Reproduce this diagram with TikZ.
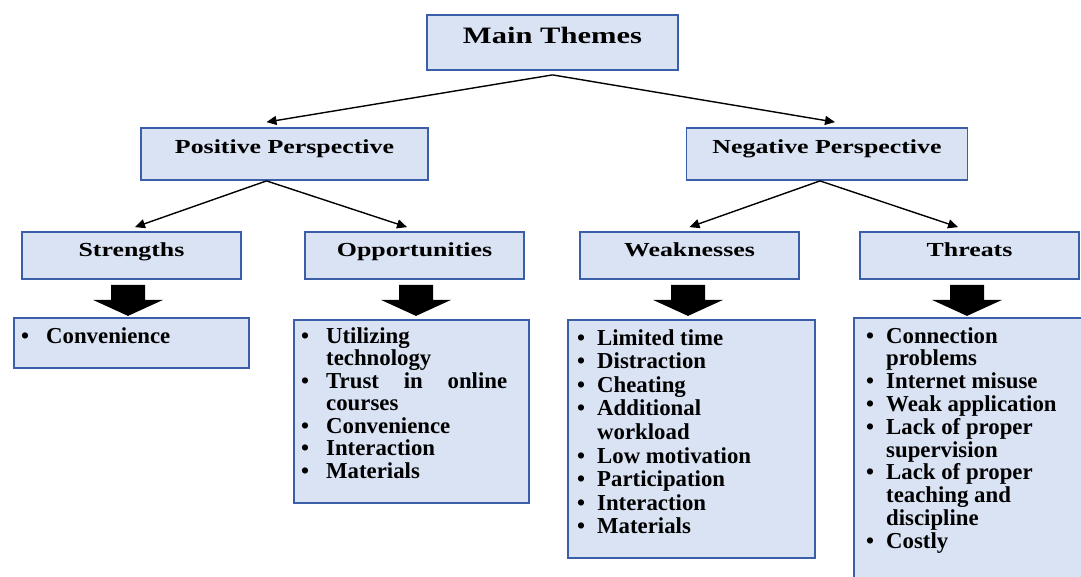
\documentclass[tikz,border=0pt]{standalone}
\usepackage{fontspec}
\setmainfont{Liberation Serif}
\usepackage{graphicx}
\usetikzlibrary{arrows.meta,calc}
\definecolor{boxline}{RGB}{58,94,168}
\definecolor{boxfill}{RGB}{218,227,243}
% header captions are set wide
\newcommand\wide[2][1.3]{\scalebox{#1}[1]{#2}}
% bullet followed by a fixed gap
\newlength\bgap
\newcommand\bu{\makebox[\bgap][l]{\textbullet}}

\begin{document}
\begin{tikzpicture}[x=1pt,y=-1pt,
  hdr/.style={draw=boxline, fill=boxfill, line width=1.8pt, inner sep=0pt,
    anchor=base, font=\fontsize{19.9}{21}\selectfont\bfseries},
  lvtwo/.style={hdr, text height=25pt, text depth=27pt},
  lvthree/.style={hdr, text height=24pt, text depth=23pt},
  listbox/.style={draw=boxline, fill=boxfill, line width=1.8pt, inner sep=0pt,
    anchor=north west},
  listtext/.style={inner sep=0pt, anchor=base west,
    font=\fontsize{22.8}{23}\selectfont\bfseries},
  conn/.style={line width=1.4pt, -{Triangle[length=10pt,width=9pt]}},
  downarrow/.pic={\fill (-17,0) -- (17,0) -- (17,15) -- (35,15) -- (0,31)
    -- (-35,15) -- (-17,15) -- cycle;}
]
\clip (0,0) rectangle (1081,576);
\fill[white] (0,0) rectangle (1081,576);

% top level
\node[hdr, font=\fontsize{23.5}{25}\selectfont\bfseries, minimum width=251pt,
  text height=28pt, text depth=27pt] (main) at (552.5,43) {\wide{Main Themes}};

% perspectives
\node[lvtwo, minimum width=287pt] (pos) at (284.5,153) {\wide{Positive Perspective}};
\node[lvtwo, minimum width=281pt] (neg) at (827,153) {\wide{Negative Perspective}};

% SWOT headers
\node[lvthree, minimum width=219pt] (str)  at (131.5,256) {\wide{Strengths}};
\node[lvthree, minimum width=219pt] (opp)  at (414.5,256) {\wide{Opportunities}};
\node[lvthree, minimum width=219pt] (weak) at (689.5,256) {\wide{Weaknesses}};
\node[lvthree, minimum width=219pt] (thr)  at (969.5,256) {\wide{Threats}};

% connectors
\draw[conn] ($(main.south)+(0,4)$) -- ($(pos.north)+(-18,-5)$);
\draw[conn] ($(main.south)+(0,4)$) -- ($(neg.north)+(8,-5)$);
\draw[conn] ($(pos.south)+(-18,0)$) -- ($(str.north)+(3.5,-4)$);
\draw[conn] ($(pos.south)+(-18,0)$) -- ($(opp.north)+(-7.5,-4)$);
\draw[conn] ($(neg.south)+(-7,0)$) -- ($(weak.north)+(0,-4)$);
\draw[conn] ($(neg.south)+(-7,0)$) -- ($(thr.north)+(-11.5,-4)$);

% block arrows
\pic (sa) at ($(str.south)+(-3.5,5)$) {downarrow};
\pic (oa) at ($(opp.south)+(1.5,5)$) {downarrow};
\pic (wa) at ($(weak.south)+(-1.5,5)$) {downarrow};
\pic (ta) at ($(thr.south)+(-2.5,5)$) {downarrow};

% list boxes
\node[listbox, minimum width=235pt, minimum height=50pt]  (strl)  at (13,317)  {};
\node[listbox, minimum width=235pt, minimum height=183pt] (oppl)  at (293,319) {};
\node[listbox, minimum width=247pt, minimum height=238pt] (weakl) at (567,319) {};
\node[listbox, minimum width=270pt, minimum height=275pt] (thrl)  at (853,317) {};

\node[listtext] (strt) at ($(strl.north west)+(8,26)$) {\setlength\bgap{25pt}%
  \begin{tabular}[t]{@{}l@{}l@{}}
  \bu & Convenience
  \end{tabular}};

\node[listtext] (oppt) at ($(oppl.north west)+(8,24)$) {\fontsize{22.8}{22.5}\selectfont
  \setlength\bgap{25pt}%
  \begin{tabular}[t]{@{}l@{}l@{}}
  \bu & Utilizing \\
      & technology \\
  \bu & \makebox[181pt][s]{Trust in online} \\
      & courses \\
  \bu & Convenience \\
  \bu & Interaction \\
  \bu & Materials
  \end{tabular}};

\node[listtext] (weakt) at ($(weakl.north west)+(10,26)$) {\fontsize{22.8}{23.6}\selectfont
  \setlength\bgap{20pt}%
  \begin{tabular}[t]{@{}l@{}l@{}}
  \bu & Limited time \\
  \bu & Distraction \\
  \bu & Cheating \\
  \bu & Additional \\
      & workload \\
  \bu & Low motivation \\
  \bu & Participation \\
  \bu & Interaction \\
  \bu & Materials
  \end{tabular}};

\node[listtext] (thrt) at ($(thrl.north west)+(13,26)$) {\fontsize{22.8}{22.8}\selectfont
  \setlength\bgap{20pt}%
  \begin{tabular}[t]{@{}l@{}l@{}}
  \bu & Connection \\
      & problems \\
  \bu & Internet misuse \\
  \bu & Weak application \\
  \bu & Lack of proper \\
      & supervision \\
  \bu & Lack of proper \\
      & teaching and \\
      & discipline \\
  \bu & Costly
  \end{tabular}};
\end{tikzpicture}
\end{document}
